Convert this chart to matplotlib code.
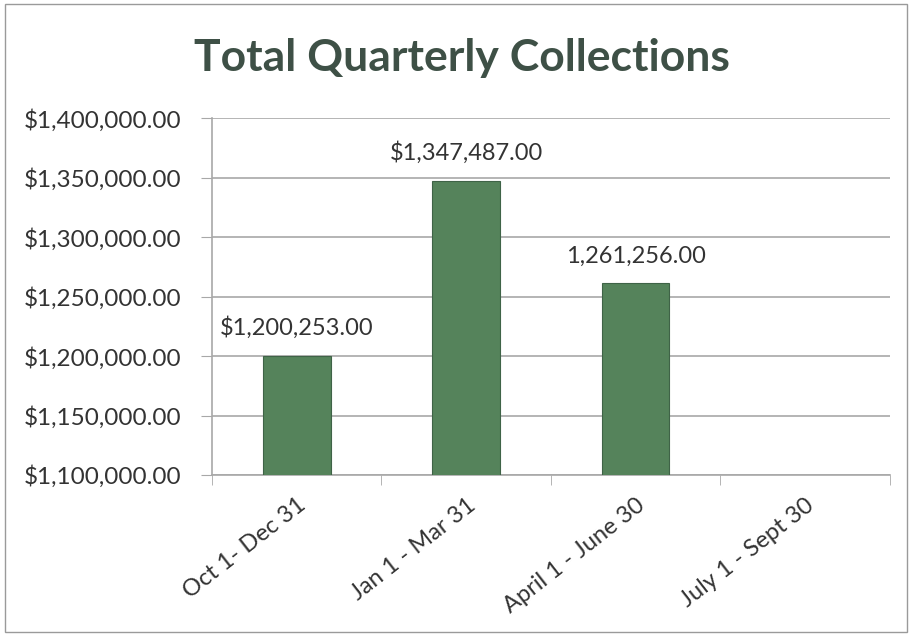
import matplotlib
matplotlib.use("Agg")
import matplotlib.pyplot as plt
from matplotlib.patches import Rectangle
from matplotlib.ticker import FuncFormatter, MultipleLocator

# data
quarters = ["Oct 1- Dec 31", "Jan 1 - Mar 31", "April 1 - June 30", "July 1 - Sept 30"]
collections = [1200253.00, 1347487.00, 1261256.00, None]
bar_labels = ["$1,200,253.00", "$1,347,487.00", "1,261,256.00", ""]

plt.rcParams["font.family"] = ["Lato", "DejaVu Sans"]

fig = plt.figure(figsize=(9.11, 6.35), dpi=100)
ax = fig.add_axes([0.2327, 0.252, 0.744, 0.562])

xs = [i for i, v in enumerate(collections) if v is not None]
vals = [v for v in collections if v is not None]
ax.bar(xs, vals, width=0.4, color="#55835b", edgecolor="#3f6347", linewidth=0.8, zorder=3)
for x, v, lab in zip(xs, vals, bar_labels):
    ax.annotate(lab, (x, v), xytext=(0, 12), textcoords="offset points",
                ha="center", va="bottom", fontsize=17, color="#333333")

ax.set_xlim(-0.5, len(quarters) - 0.5)
ax.set_ylim(1100000, 1400000)
ax.yaxis.set_major_locator(MultipleLocator(50000))
ax.yaxis.set_major_formatter(FuncFormatter(lambda v, p: f"${v:,.2f}"))
ax.grid(axis="y", color="#a8a8a8", linewidth=1.2, zorder=0)

ax.set_xticks(range(len(quarters)))
ax.set_xticklabels(quarters, rotation=38, ha="right", rotation_mode="anchor",
                   fontsize=17, color="#333333")
ax.tick_params(axis="x", which="major", length=0, pad=14)
ax.set_xticks([i - 0.5 for i in range(len(quarters) + 1)], minor=True)
ax.tick_params(axis="x", which="minor", length=7, color="#a8a8a8", direction="out")
ax.tick_params(axis="y", length=8, color="#a8a8a8", labelsize=17.5,
               labelcolor="#333333", pad=14)

for s in ["top", "right"]:
    ax.spines[s].set_visible(False)
for s in ["left", "bottom"]:
    ax.spines[s].set_color("#a8a8a8")
    ax.spines[s].set_linewidth(1.2)

fig.text(0.507, 0.908, "Total Quarterly Collections", ha="center", va="center",
         fontsize=32, fontweight="bold", color="#3e5046")

fig.patches.append(Rectangle((0.006, 0.004), 0.99, 0.99, transform=fig.transFigure,
                             fill=False, edgecolor="#9a9a9a", linewidth=1.0))

fig.savefig("out.png", dpi=100)
